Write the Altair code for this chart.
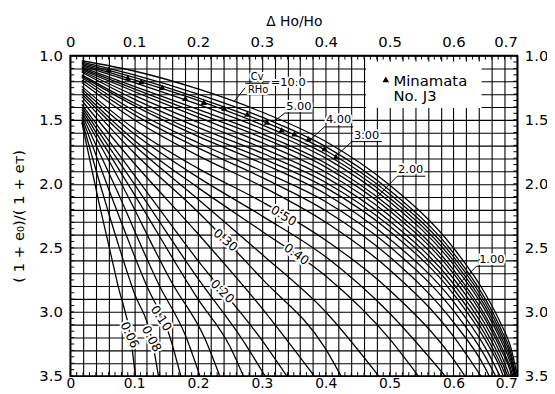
import altair as alt
import pandas as pd

FONT = "DejaVu Sans"

# ---------------- axis values ----------------
X_LABELS = [0, 0.1, 0.2, 0.3, 0.4, 0.5, 0.6, 0.7]
Y_LABELS = [1.0, 1.5, 2.0, 2.5, 3.0, 3.5]
X_GRID = [round(0.02 * i, 2) for i in range(36)]
Y_GRID = [round(1.0 + 0.1 * i, 1) for i in range(26)]
X_TICKS = [round(0.01 * i, 2) for i in range(71)]
Y_TICKS = [round(1.0 + 0.05 * i, 2) for i in range(51)]

# ---------------- curves (Cv / R Ho) ----------------
c006_x = [0.018, 0.045, 0.075, 0.095, 0.102]
c006_y = [1.52, 2.15, 2.80, 3.22, 3.50]
c008_x = [0.018, 0.05, 0.10, 0.128, 0.138]
c008_y = [1.50, 2.06, 2.85, 3.22, 3.50]
c010_x = [0.018, 0.06, 0.12, 0.155, 0.173]
c010_y = [1.48, 2.04, 2.80, 3.18, 3.50]
c012_x = [0.018, 0.07, 0.14, 0.18, 0.203]
c012_y = [1.46, 2.02, 2.80, 3.18, 3.50]
c014_x = [0.018, 0.08, 0.16, 0.21, 0.234]
c014_y = [1.44, 2.00, 2.78, 3.20, 3.50]
c016_x = [0.018, 0.10, 0.20, 0.25, 0.271]
c016_y = [1.42, 2.08, 2.90, 3.27, 3.50]
c018_x = [0.018, 0.10, 0.20, 0.27, 0.305]
c018_y = [1.40, 2.00, 2.74, 3.22, 3.50]
c020_x = [0.018, 0.10, 0.20, 0.30, 0.339]
c020_y = [1.38, 1.93, 2.60, 3.22, 3.50]
c025_x = [0.018, 0.10, 0.20, 0.30, 0.382]
c025_y = [1.35, 1.84, 2.39, 2.97, 3.50]
c030_x = [0.018, 0.10, 0.20, 0.30, 0.40, 0.424]
c030_y = [1.32, 1.76, 2.22, 2.74, 3.29, 3.50]
c035_x = [0.018, 0.10, 0.20, 0.30, 0.40, 0.483]
c035_y = [1.30, 1.70, 2.12, 2.55, 3.00, 3.50]
c040_x = [0.018, 0.10, 0.20, 0.30, 0.40, 0.50, 0.545]
c040_y = [1.28, 1.66, 2.03, 2.37, 2.72, 3.21, 3.50]
c045_x = [0.018, 0.10, 0.20, 0.30, 0.40, 0.50, 0.587]
c045_y = [1.26, 1.61, 1.95, 2.25, 2.57, 3.01, 3.50]
c050_x = [0.018, 0.10, 0.20, 0.30, 0.40, 0.50, 0.60, 0.618]
c050_y = [1.24, 1.57, 1.88, 2.14, 2.44, 2.83, 3.37, 3.50]
c060_x = [0.018, 0.10, 0.20, 0.30, 0.40, 0.50, 0.60, 0.643]
c060_y = [1.21, 1.50, 1.78, 2.02, 2.30, 2.67, 3.19, 3.50]
c070_x = [0.018, 0.10, 0.20, 0.30, 0.40, 0.50, 0.60, 0.65, 0.656]
c070_y = [1.19, 1.46, 1.72, 1.95, 2.21, 2.57, 3.08, 3.44, 3.50]
c080_x = [0.018, 0.10, 0.20, 0.30, 0.40, 0.50, 0.60, 0.65, 0.666]
c080_y = [1.17, 1.43, 1.68, 1.90, 2.14, 2.49, 2.99, 3.35, 3.50]
c090_x = [0.018, 0.10, 0.20, 0.30, 0.40, 0.50, 0.60, 0.65, 0.673]
c090_y = [1.16, 1.39, 1.63, 1.84, 2.08, 2.43, 2.92, 3.28, 3.50]
c100_x = [0.018, 0.10, 0.20, 0.30, 0.40, 0.50, 0.60, 0.65, 0.675, 0.678]
c100_y = [1.15, 1.37, 1.60, 1.80, 2.03, 2.37, 2.86, 3.22, 3.46, 3.50]
c120_x = [0.018, 0.10, 0.20, 0.30, 0.40, 0.50, 0.60, 0.65, 0.675, 0.682]
c120_y = [1.13, 1.34, 1.56, 1.76, 1.99, 2.33, 2.82, 3.18, 3.42, 3.50]
c140_x = [0.018, 0.10, 0.20, 0.30, 0.40, 0.50, 0.60, 0.65, 0.675, 0.685]
c140_y = [1.12, 1.31, 1.52, 1.72, 1.95, 2.29, 2.78, 3.14, 3.38, 3.50]
c160_x = [0.018, 0.10, 0.20, 0.30, 0.40, 0.50, 0.60, 0.65, 0.675, 0.688]
c160_y = [1.11, 1.28, 1.48, 1.68, 1.91, 2.25, 2.74, 3.10, 3.34, 3.50]
c180_x = [0.018, 0.10, 0.20, 0.30, 0.40, 0.50, 0.60, 0.65, 0.675, 0.69, 0.691]
c180_y = [1.10, 1.26, 1.45, 1.64, 1.87, 2.21, 2.70, 3.06, 3.30, 3.48, 3.50]
c200_x = [0.018, 0.10, 0.20, 0.30, 0.40, 0.50, 0.60, 0.65, 0.675, 0.69, 0.693]
c200_y = [1.09, 1.24, 1.42, 1.61, 1.84, 2.18, 2.67, 3.03, 3.27, 3.45, 3.50]
c250_x = [0.018, 0.10, 0.20, 0.30, 0.40, 0.50, 0.60, 0.65, 0.675, 0.69, 0.695]
c250_y = [1.08, 1.21, 1.38, 1.57, 1.80, 2.14, 2.63, 2.99, 3.23, 3.41, 3.50]
c300_x = [0.018, 0.10, 0.20, 0.30, 0.40, 0.50, 0.60, 0.65, 0.675, 0.69, 0.696]
c300_y = [1.07, 1.19, 1.35, 1.54, 1.77, 2.11, 2.60, 2.96, 3.20, 3.38, 3.50]
c400_x = [0.018, 0.10, 0.20, 0.30, 0.40, 0.50, 0.60, 0.65, 0.675, 0.69, 0.697]
c400_y = [1.06, 1.17, 1.33, 1.51, 1.74, 2.08, 2.57, 2.93, 3.17, 3.35, 3.50]
c500_x = [0.018, 0.10, 0.20, 0.30, 0.40, 0.50, 0.60, 0.65, 0.675, 0.69, 0.698]
c500_y = [1.05, 1.15, 1.30, 1.48, 1.71, 2.05, 2.54, 2.90, 3.14, 3.32, 3.50]
c1000_x = [0.018, 0.10, 0.20, 0.30, 0.40, 0.50, 0.60, 0.65, 0.675, 0.69, 0.700]
c1000_y = [1.04, 1.12, 1.26, 1.44, 1.67, 2.01, 2.50, 2.86, 3.10, 3.28, 3.50]

CURVES = [
    ("0.06", c006_x, c006_y), ("0.08", c008_x, c008_y), ("0.10", c010_x, c010_y),
    ("0.12", c012_x, c012_y), ("0.14", c014_x, c014_y), ("0.16", c016_x, c016_y),
    ("0.18", c018_x, c018_y), ("0.20", c020_x, c020_y), ("0.25", c025_x, c025_y),
    ("0.30", c030_x, c030_y), ("0.35", c035_x, c035_y), ("0.40", c040_x, c040_y),
    ("0.45", c045_x, c045_y), ("0.50", c050_x, c050_y), ("0.60", c060_x, c060_y),
    ("0.70", c070_x, c070_y), ("0.80", c080_x, c080_y), ("0.90", c090_x, c090_y),
    ("1.00", c100_x, c100_y), ("1.20", c120_x, c120_y), ("1.40", c140_x, c140_y),
    ("1.60", c160_x, c160_y), ("1.80", c180_x, c180_y), ("2.00", c200_x, c200_y),
    ("2.50", c250_x, c250_y), ("3.00", c300_x, c300_y), ("4.00", c400_x, c400_y),
    ("5.00", c500_x, c500_y), ("10.0", c1000_x, c1000_y),
]

# ---------------- Minamata No. J3 observations ----------------
J3_X = [0.060, 0.090, 0.111, 0.144, 0.180, 0.209, 0.241, 0.277, 0.308, 0.331, 0.351, 0.373, 0.398, 0.416]
J3_Y = [1.108, 1.170, 1.201, 1.247, 1.332, 1.363, 1.409, 1.455, 1.517, 1.579, 1.610, 1.648, 1.725, 1.787]

# ---------------- curve labels ----------------
ROT_TEXT = ["0.06", "0.08", "0.10", "0.20", "0.30", "0.40", "0.50"]
ROT_X = [0.093, 0.127, 0.142, 0.238, 0.243, 0.354, 0.334]
ROT_Y = [3.18, 3.21, 3.05, 2.84, 2.44, 2.55, 2.25]
ROT_ANGLE = [65, 62, 57, 45, 41, 36, 32]

HL_TEXT = ["1.00", "2.00", "3.00", "4.00", "5.00"]
HL_X = [0.660, 0.533, 0.464, 0.420, 0.358]
HL_Y = [2.597, 1.895, 1.625, 1.505, 1.405]

# underlines and leader lines (x1, y1) -> (x2, y2)
RULE_X1 = [0.636, 0.512, 0.441, 0.398, 0.336, 0.636, 0.512, 0.441, 0.398, 0.336, 0.274, 0.274]
RULE_Y1 = [2.643, 1.941, 1.671, 1.556, 1.448, 2.643, 1.941, 1.671, 1.556, 1.448, 1.216, 1.250]
RULE_X2 = [0.680, 0.556, 0.488, 0.443, 0.379, 0.599, 0.481, 0.413, 0.375, 0.320, 0.311, 0.257]
RULE_Y2 = [2.643, 1.941, 1.671, 1.556, 1.448, 2.829, 2.101, 1.795, 1.660, 1.509, 1.216, 1.355]

# ---------------- build tables ----------------
rows = []
for name, xs, ys in CURVES:
    for i, (xv, yv) in enumerate(zip(xs, ys)):
        rows.append({"curve": name, "i": i, "x": xv, "y": yv})
curve_df = pd.DataFrame(rows)
j3_df = pd.DataFrame({"x": J3_X, "y": J3_Y})
rot_df = pd.DataFrame({"t": ROT_TEXT, "x": ROT_X, "y": ROT_Y, "a": ROT_ANGLE})
hl_df = pd.DataFrame({"t": HL_TEXT, "x": HL_X, "y": HL_Y})
rule_df = pd.DataFrame({"x": RULE_X1, "y": RULE_Y1, "x2": RULE_X2, "y2": RULE_Y2})
frac_df = pd.DataFrame({"t": ["Cv", "RHo"], "x": [0.2926, 0.294], "y": [1.166, 1.266]})
eq_df = pd.DataFrame({"t": ["=10.0"], "x": [0.314], "y": [1.216]})
leg_box = pd.DataFrame({"x": [0.463], "x2": [0.644], "y": [1.046], "y2": [1.409]})
leg_sym = pd.DataFrame({"x": [0.494], "y": [1.185]})
leg_txt = pd.DataFrame({"t": ["Minamata", "No. J3"], "x": [0.506, 0.506], "y": [1.197, 1.318]})
xt_df = pd.DataFrame({"x": X_TICKS})
yt_df = pd.DataFrame({"y": Y_TICKS})

XS = alt.Scale(domain=[0, 0.7], nice=False, zero=False)
YS = alt.Scale(domain=[1.0, 3.5], nice=False, zero=False, reverse=True)


def xn(f="x:Q"):
    return alt.X(f, scale=XS, axis=None)


def yn(f="y:Q"):
    return alt.Y(f, scale=YS, axis=None)


x_lab_expr = ("abs(datum.value*10 - round(datum.value*10)) < 0.001 ? "
              "(datum.value == 0 ? '0' : format(datum.value, '.1f')) : ''")
y_lab_expr = ("abs(datum.value*2 - round(datum.value*2)) < 0.001 ? "
              "format(datum.value, '.1f') : ''")
end_align = {"condition": {"test": "datum.value >= 0.69", "value": "right"}, "value": "center"}

curves = alt.Chart(curve_df).mark_line(
    color="black", strokeWidth=1.3, interpolate="monotone", clip=True
).encode(
    x=alt.X("x:Q", scale=XS, axis=alt.Axis(
        orient="top", values=X_GRID, grid=True, gridColor="black", gridWidth=1.1,
        gridOpacity=1, ticks=False, domain=False, labelExpr=x_lab_expr,
        labelAlign=end_align,
        labelOverlap=False, labelFlush=False, labelFontSize=15, labelPadding=6,
        title="Δ Ho/Ho", titleFontSize=14, titlePadding=6, titleFontWeight="normal")),
    y=alt.Y("y:Q", scale=YS, axis=alt.Axis(
        orient="left", values=Y_GRID, grid=True, gridColor="black", gridWidth=1.1,
        gridOpacity=1, ticks=False, domain=False, labelExpr=y_lab_expr,
        labelOverlap=False, labelFlush=False, labelFontSize=15, labelPadding=8,
        title="( 1 + e₀)/( 1 + eᴛ)", titleFontSize=15, titlePadding=12,
        titleFontWeight="normal")),
    detail="curve:N",
    order="i:Q",
)

tri = alt.Chart(j3_df).mark_point(
    shape="triangle-up", filled=True, color="black", size=42, opacity=1
).encode(
    x=alt.X("x:Q", scale=XS, axis=alt.Axis(
        orient="bottom", values=X_LABELS, grid=False, ticks=False, domain=False,
        labelExpr="datum.value == 0 ? '0' : format(datum.value, '.1f')",
        labelAlign=end_align,
        labelOverlap=False, labelFlush=False, labelFontSize=14, labelPadding=1, title=None)),
    y=alt.Y("y:Q", scale=YS, axis=alt.Axis(
        orient="right", values=Y_LABELS, grid=False, ticks=False, domain=False,
        format=".1f", labelOverlap=False, labelFlush=False, labelFontSize=15,
        labelPadding=7, title=None)),
)

box = alt.Chart(leg_box).mark_rect(color="white", opacity=1).encode(
    x=xn(), x2="x2:Q", y=yn(), y2="y2:Q")
sym = alt.Chart(leg_sym).mark_point(shape="triangle-up", filled=True, color="black",
                                    size=45, opacity=1).encode(x=xn(), y=yn())
legt = alt.Chart(leg_txt).mark_text(font=FONT, fontSize=15, align="left",
                                    baseline="middle", color="black").encode(
    x=xn(), y=yn(), text="t:N")

rot_enc = dict(x=xn(), y=yn(), text="t:N", angle=alt.Angle("a:Q", scale=None))
rot_halo = alt.Chart(rot_df).mark_text(font=FONT, fontSize=12.5, color="white", stroke="white",
                                       strokeWidth=4, baseline="middle").encode(**rot_enc)
rot_txt = alt.Chart(rot_df).mark_text(font=FONT, fontSize=12.5, color="black",
                                      baseline="middle").encode(**rot_enc)

hl_enc = dict(x=xn(), y=yn(), text="t:N")
hl_halo = alt.Chart(hl_df).mark_text(font=FONT, fontSize=11.5, color="white", stroke="white",
                                     strokeWidth=4, baseline="middle").encode(**hl_enc)
hl_txt = alt.Chart(hl_df).mark_text(font=FONT, fontSize=11.5, color="black",
                                    baseline="middle").encode(**hl_enc)

fr_halo = alt.Chart(frac_df).mark_text(font=FONT, fontSize=10, color="white", stroke="white",
                                       strokeWidth=4, baseline="middle").encode(**hl_enc)
fr_txt = alt.Chart(frac_df).mark_text(font=FONT, fontSize=10, color="black",
                                      baseline="middle").encode(**hl_enc)
eq_halo = alt.Chart(eq_df).mark_text(font=FONT, fontSize=11.5, color="white", stroke="white",
                                     strokeWidth=4, align="left", baseline="middle").encode(**hl_enc)
eq_txt = alt.Chart(eq_df).mark_text(font=FONT, fontSize=11.5, color="black", align="left",
                                    baseline="middle").encode(**hl_enc)

rules = alt.Chart(rule_df).mark_rule(color="black", strokeWidth=1).encode(
    x=xn(), y=yn(), x2="x2:Q", y2="y2:Q")

tick_top = alt.Chart(xt_df).mark_rule(color="black", strokeWidth=1).encode(
    x=xn(), y=alt.value(0), y2=alt.value(4))
tick_bot = alt.Chart(xt_df).mark_rule(color="black", strokeWidth=1).encode(
    x=xn(), y=alt.value(324), y2=alt.value(320))
tick_left = alt.Chart(yt_df).mark_rule(color="black", strokeWidth=1).encode(
    y=yn(), x=alt.value(0), x2=alt.value(4))
tick_right = alt.Chart(yt_df).mark_rule(color="black", strokeWidth=1).encode(
    y=yn(), x=alt.value(452), x2=alt.value(448))

chart = alt.layer(
    curves, tri, box, sym, legt, rot_halo, rot_txt, hl_halo, eq_halo, fr_halo, rules,
    hl_txt, eq_txt, fr_txt, tick_top, tick_bot, tick_left, tick_right,
).resolve_axis(x="independent", y="independent").properties(
    width=452, height=324,
    autosize=alt.AutoSizeParams(type="none"),
    padding={"left": 63, "top": 46, "right": 30, "bottom": 16},
    background="white",
).configure_view(stroke="black", strokeWidth=1.8).configure_axis(
    labelFont=FONT, titleFont=FONT, labelColor="black", titleColor="black"
)

chart.save("out.html", embed_options={"renderer": "svg", "actions": False})
